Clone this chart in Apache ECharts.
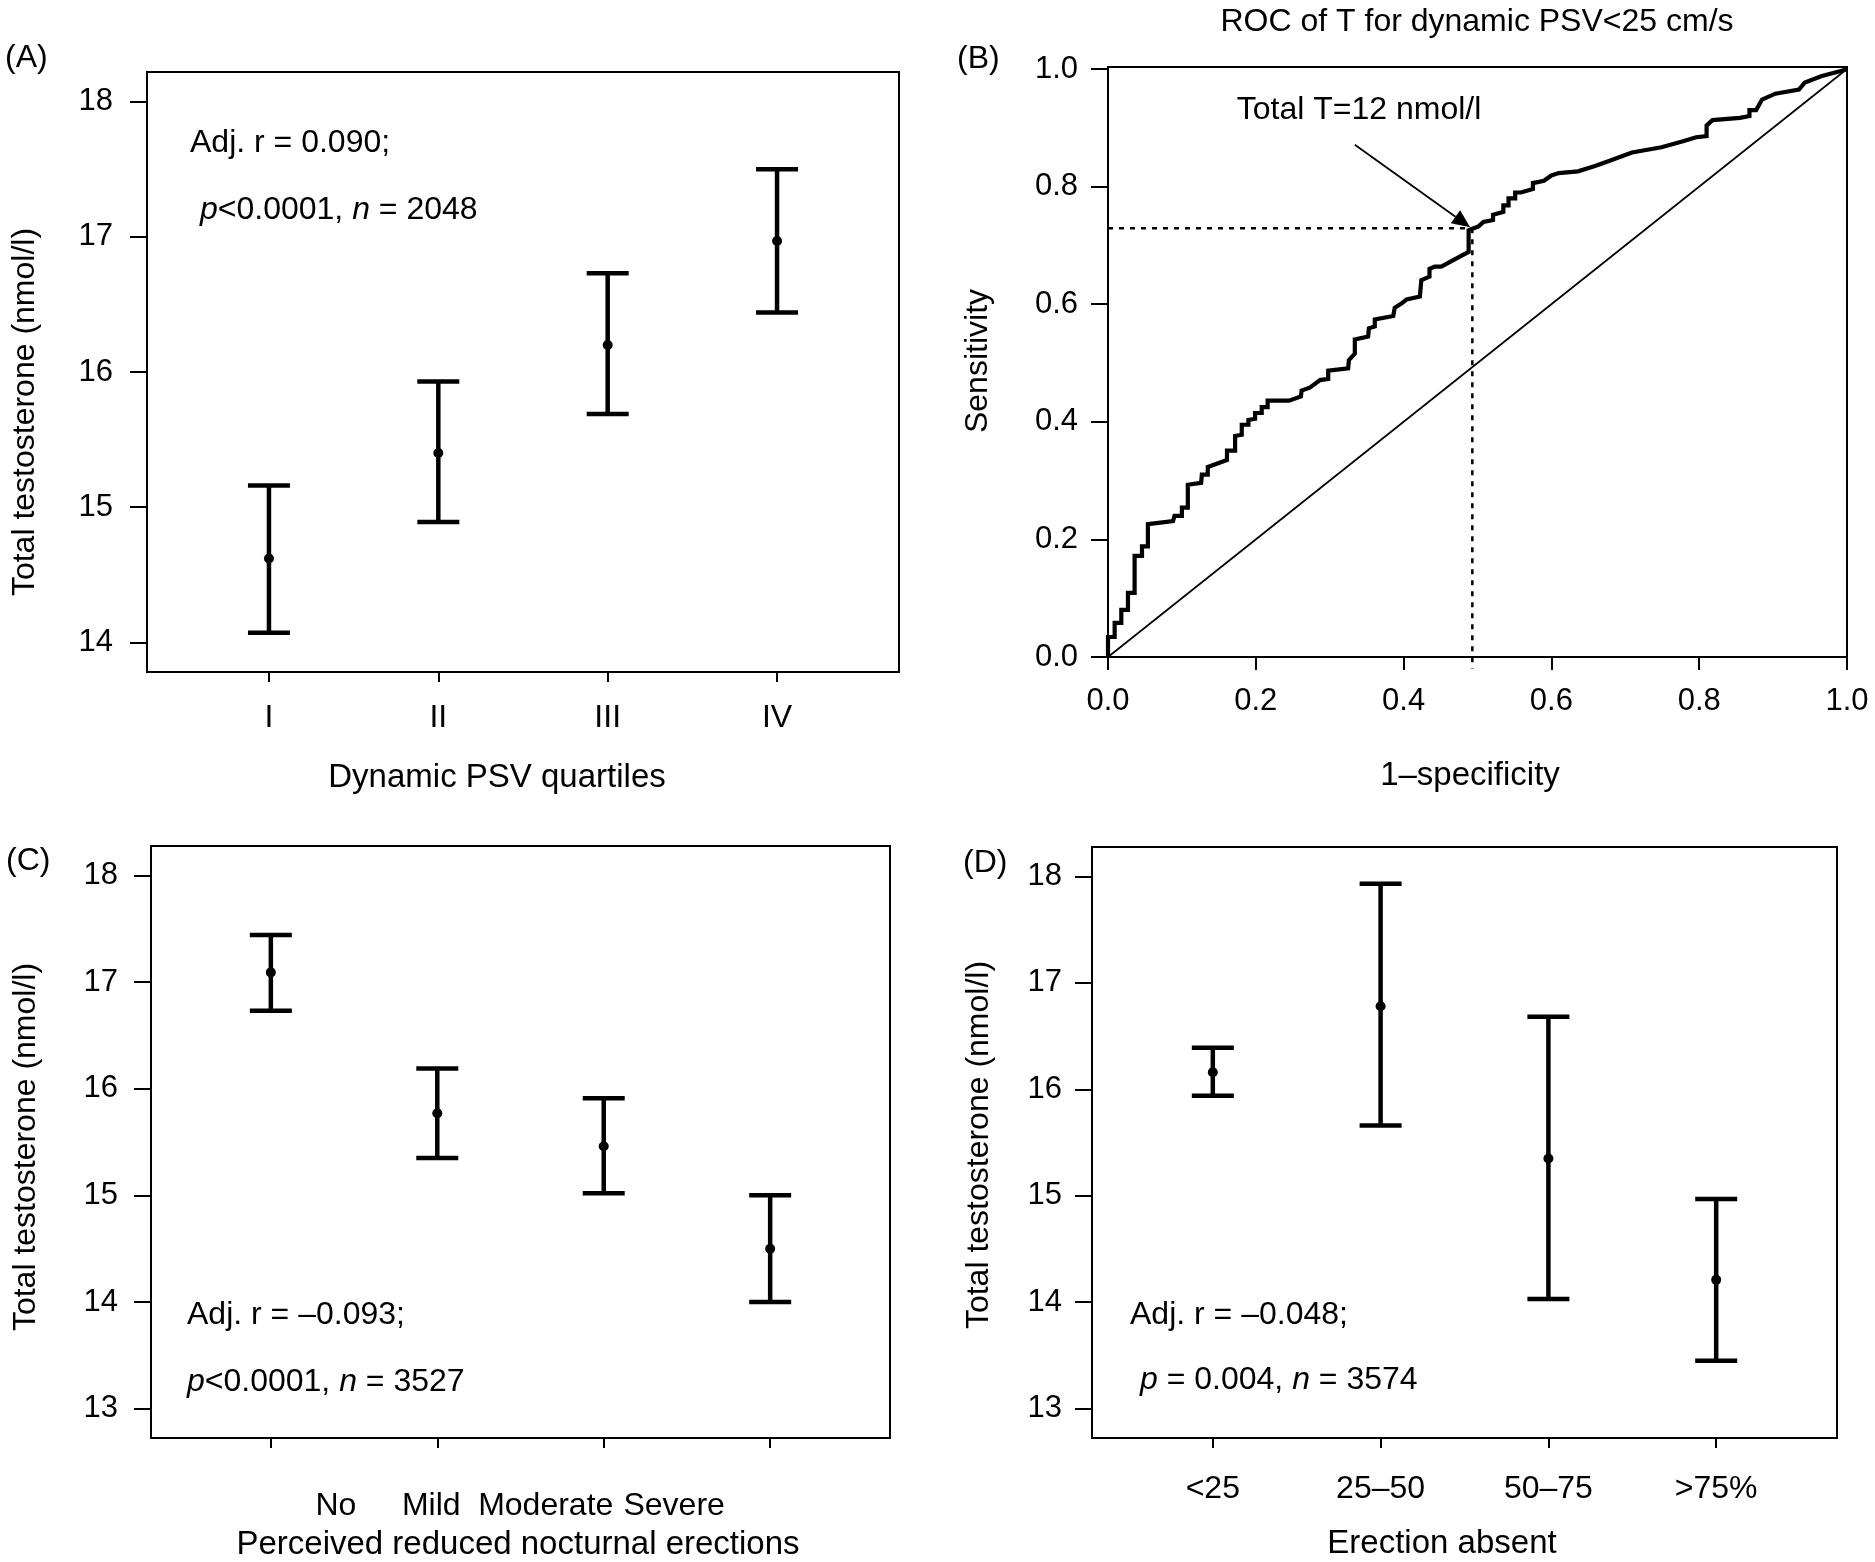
<!DOCTYPE html>
<html><head><meta charset="utf-8">
<script src="https://cdn.jsdelivr.net/npm/echarts@6/dist/echarts.min.js"></script>
<style>html,body{margin:0;padding:0;background:#fff}#c{width:1875px;height:1562px}</style>
</head><body><div id="c"></div>
<script>
// ---------- data ----------
const catsA = ['I', 'II', 'III', 'IV'];
const meanA = [14.62, 15.40, 16.20, 16.97];
const lowA  = [14.07, 14.89, 15.69, 16.44];
const highA = [15.16, 15.93, 16.73, 17.50];

const catsC = ['No', 'Mild', 'Moderate', 'Severe'];
const meanC = [17.09, 15.77, 15.46, 14.50];
const lowC  = [16.73, 15.35, 15.02, 14.00];
const highC = [17.44, 16.19, 15.91, 15.00];

const catsD = ['<25', '25–50', '50–75', '>75%'];
const meanD = [16.16, 16.78, 15.35, 14.21];
const lowD  = [15.94, 15.66, 14.03, 13.45];
const highD = [16.39, 17.93, 16.68, 14.97];

const catPos = [1, 2, 3, 4];
const ticksA = [14, 15, 16, 17, 18];
const ticksCD = [13, 14, 15, 16, 17, 18];
const ticksB = [0, 0.2, 0.4, 0.6, 0.8, 1.0];

const rocFpr = [0,0,0.009,0.009,0.018,0.018,0.027,0.027,0.036,0.036,0.046,0.046,0.054,0.054,0.088,0.090,0.100,0.100,0.108,0.108,0.126,0.127,0.135,0.135,0.161,0.161,0.172,0.172,0.181,0.181,0.190,0.190,0.199,0.199,0.208,0.208,0.216,0.216,0.245,0.261,0.262,0.273,0.287,0.298,0.298,0.325,0.326,0.334,0.334,0.352,0.353,0.361,0.361,0.386,0.388,0.397,0.404,0.422,0.424,0.435,0.435,0.442,0.451,0.476,0.488,0.488,0.501,0.508,0.521,0.521,0.535,0.535,0.542,0.542,0.551,0.551,0.559,0.575,0.575,0.590,0.600,0.610,0.636,0.659,0.677,0.709,0.749,0.778,0.796,0.810,0.810,0.818,0.855,0.868,0.868,0.877,0.885,0.903,0.935,0.943,0.966,0.993,1];
const rocSens = [0,0.034,0.034,0.058,0.058,0.080,0.080,0.109,0.109,0.172,0.172,0.188,0.188,0.226,0.231,0.240,0.240,0.254,0.254,0.293,0.296,0.310,0.310,0.323,0.335,0.351,0.351,0.376,0.378,0.395,0.395,0.403,0.405,0.415,0.415,0.425,0.425,0.436,0.436,0.443,0.453,0.458,0.471,0.473,0.487,0.491,0.505,0.516,0.540,0.545,0.559,0.562,0.574,0.580,0.594,0.601,0.608,0.613,0.641,0.647,0.660,0.664,0.664,0.681,0.689,0.726,0.732,0.740,0.743,0.752,0.757,0.768,0.768,0.780,0.780,0.790,0.790,0.796,0.806,0.810,0.819,0.823,0.826,0.835,0.843,0.858,0.867,0.877,0.884,0.886,0.904,0.913,0.917,0.920,0.930,0.930,0.948,0.958,0.965,0.977,0.988,0.997,1];
const cutoffFpr = 0.493;
const cutoffSens = 0.729;
const arrowFrom = [0.334, 0.871];
const arrowTo = [0.490, 0.731];

// ---------- chart ----------
const FF = '"Liberation Sans", Arial, Helvetica, sans-serif';
const chart = echarts.init(document.getElementById('c'), null, {renderer: 'canvas'});

const tickStyle = {color: '#000', width: 2};

function xAxisCat(idx, cats, margin, rich) {
  return {
    gridIndex: idx, type: 'value', min: 0.28, max: 4.72,
    axisLine: {show: false}, splitLine: {show: false},
    axisTick: {show: true, customValues: catPos, length: 10, lineStyle: tickStyle},
    axisLabel: {
      customValues: catPos, margin: margin, color: '#000', fontSize: 32, fontFamily: FF,
      formatter: rich ? (v => { const i = Math.round(v) - 1; return '{c' + i + '|' + cats[i] + '}'; })
                      : (v => cats[Math.round(v) - 1]),
      rich: rich
    }
  };
}
function yAxisVal(idx, min, max, ticks, margin, fmt) {
  return {
    gridIndex: idx, type: 'value', min: min, max: max,
    axisLine: {show: false}, splitLine: {show: false},
    axisTick: {show: true, customValues: ticks, length: 17, lineStyle: tickStyle},
    axisLabel: {customValues: ticks, margin: margin, color: '#000', fontSize: 31, fontFamily: FF,
      formatter: fmt || (v => String(v))}
  };
}
function errSeries(idx, means, lows, highs) {
  return {
    type: 'custom', xAxisIndex: idx, yAxisIndex: idx,
    data: means.map((m, i) => [catPos[i], m, lows[i], highs[i]]),
    renderItem: (params, api) => {
      const x = api.value(0);
      const pm = api.coord([x, api.value(1)]);
      const pl = api.coord([x, api.value(2)]);
      const ph = api.coord([x, api.value(3)]);
      const hw = 21;
      const st = {stroke: '#000', lineWidth: 4.5, fill: null};
      return {type: 'group', children: [
        {type: 'line', shape: {x1: pl[0], y1: pl[1], x2: ph[0], y2: ph[1]}, style: st},
        {type: 'line', shape: {x1: pl[0] - hw, y1: pl[1], x2: pl[0] + hw, y2: pl[1]}, style: st},
        {type: 'line', shape: {x1: ph[0] - hw, y1: ph[1], x2: ph[0] + hw, y2: ph[1]}, style: st},
        {type: 'circle', shape: {cx: pm[0], cy: pm[1], r: 5}, style: {fill: '#000'}}
      ]};
    }
  };
}
function txt(x, y, text, o) {
  o = o || {};
  const al = o.align || 'center';
  return {type: 'text', x: x, y: y, rotation: o.rot || 0, z: 100,
    style: {text: text, fill: '#000', fontSize: o.size || 32, fontFamily: FF,
      align: al, verticalAlign: 'middle', textAlign: al, textVerticalAlign: 'middle',
      rich: o.rich}};
}
const ital = {i: {fontStyle: 'italic', fontSize: 32, fontFamily: FF, fill: '#000', color: '#000'}};
const gridStyle = {show: true, borderColor: '#000', borderWidth: 2, backgroundColor: 'transparent'};
const fmt1 = v => v.toFixed(1);
const richC = {
  c0: {padding: [0, 0, 0, 130], fontSize: 32, fontFamily: FF, color: '#000'},
  c1: {padding: [0, 12, 0, 0], fontSize: 32, fontFamily: FF, color: '#000'},
  c2: {padding: [0, 116, 0, 0], fontSize: 32, fontFamily: FF, color: '#000'},
  c3: {padding: [0, 192, 0, 0], fontSize: 32, fontFamily: FF, color: '#000'}
};

const option = {
  backgroundColor: '#fff',
  animation: false,
  grid: [
    Object.assign({left: 147, top: 72, width: 752, height: 600}, gridStyle),
    Object.assign({left: 1108, top: 67, width: 739, height: 590}, gridStyle),
    Object.assign({left: 151, top: 846, width: 739, height: 592}, gridStyle),
    Object.assign({left: 1092, top: 847, width: 745, height: 591}, gridStyle)
  ],
  xAxis: [
    xAxisCat(0, catsA, 30),
    {gridIndex: 1, type: 'value', min: 0, max: 1,
      axisLine: {show: false}, splitLine: {show: false},
      axisTick: {show: true, customValues: ticksB, length: 13, lineStyle: tickStyle},
      axisLabel: {customValues: ticksB, margin: 29, color: '#000', fontSize: 31, fontFamily: FF, formatter: fmt1}},
    xAxisCat(2, catsC, 52, richC),
    xAxisCat(3, catsD, 35)
  ],
  yAxis: [
    yAxisVal(0, 13.78, 18.22, ticksA, 34),
    yAxisVal(1, 0, 1.0034, ticksB, 30, fmt1),
    yAxisVal(2, 12.725, 18.275, ticksCD, 33),
    yAxisVal(3, 12.725, 18.275, ticksCD, 30)
  ],
  series: [
    errSeries(0, meanA, lowA, highA),
    errSeries(2, meanC, lowC, highC),
    errSeries(3, meanD, lowD, highD),
    {type: 'line', xAxisIndex: 1, yAxisIndex: 1, data: [[0, 0], [1, 1]], symbol: 'none',
      lineStyle: {color: '#000', width: 1.7}},
    {type: 'line', xAxisIndex: 1, yAxisIndex: 1, symbol: 'none',
      data: rocFpr.map((f, i) => [f, rocSens[i]]),
      lineStyle: {color: '#000', width: 4.2, join: 'miter'}},
    {type: 'line', xAxisIndex: 1, yAxisIndex: 1, symbol: 'none', clip: false,
      data: [[0, cutoffSens], [cutoffFpr, cutoffSens]],
      lineStyle: {color: '#000', width: 2.5, type: [5, 6]}},
    {type: 'line', xAxisIndex: 1, yAxisIndex: 1, symbol: 'none', clip: false,
      data: [[cutoffFpr, cutoffSens], [cutoffFpr, -0.02]],
      lineStyle: {color: '#000', width: 2.5, type: [5, 6]}},
    {type: 'custom', xAxisIndex: 1, yAxisIndex: 1, clip: false,
      data: [[arrowFrom[0], arrowFrom[1], arrowTo[0], arrowTo[1]]],
      renderItem: (params, api) => {
        const a = api.coord([api.value(0), api.value(1)]);
        const b = api.coord([api.value(2), api.value(3)]);
        const dx = b[0] - a[0], dy = b[1] - a[1];
        const L = Math.sqrt(dx * dx + dy * dy);
        const ux = dx / L, uy = dy / L;
        const hl = 18, hw = 8;
        const bx = b[0] - ux * hl, by = b[1] - uy * hl;
        return {type: 'group', children: [
          {type: 'line', shape: {x1: a[0], y1: a[1], x2: bx, y2: by}, style: {stroke: '#000', lineWidth: 1.8}},
          {type: 'polygon', shape: {points: [[b[0], b[1]], [bx - uy * hw, by + ux * hw], [bx + uy * hw, by - ux * hw]]}, style: {fill: '#000'}}
        ]};
      }}
  ],
  graphic: [
    txt(5, 58, '(A)', {align: 'left'}),
    txt(957, 59, '(B)', {align: 'left'}),
    txt(6, 861, '(C)', {align: 'left'}),
    txt(963, 863, '(D)', {align: 'left'}),
    txt(1477, 22, 'ROC of T for dynamic PSV<25 cm/s'),
    txt(25, 412, 'Total testosterone (nmol/l)', {rot: Math.PI / 2}),
    txt(497, 778, 'Dynamic PSV quartiles', {size: 33}),
    txt(978, 361, 'Sensitivity', {rot: Math.PI / 2}),
    txt(1470, 776, '1–specificity', {size: 33}),
    txt(26, 1147, 'Total testosterone (nmol/l)', {rot: Math.PI / 2}),
    txt(518, 1545, 'Perceived reduced nocturnal erections', {size: 33}),
    txt(979, 1145, 'Total testosterone (nmol/l)', {rot: Math.PI / 2}),
    txt(1442, 1544, 'Erection absent', {size: 33}),
    txt(1359, 110, 'Total T=12 nmol/l'),
    txt(190, 143, 'Adj. r = 0.090;', {align: 'left'}),
    txt(200, 210, '{i|p}<0.0001, {i|n} = 2048', {align: 'left', rich: ital}),
    txt(187, 1315, 'Adj. r = –0.093;', {align: 'left'}),
    txt(187, 1382, '{i|p}<0.0001, {i|n} = 3527', {align: 'left', rich: ital}),
    txt(1130, 1315, 'Adj. r = –0.048;', {align: 'left'}),
    txt(1140, 1380, '{i|p} = 0.004, {i|n} = 3574', {align: 'left', rich: ital})
  ]
};
chart.setOption(option);
</script>
</body></html>
